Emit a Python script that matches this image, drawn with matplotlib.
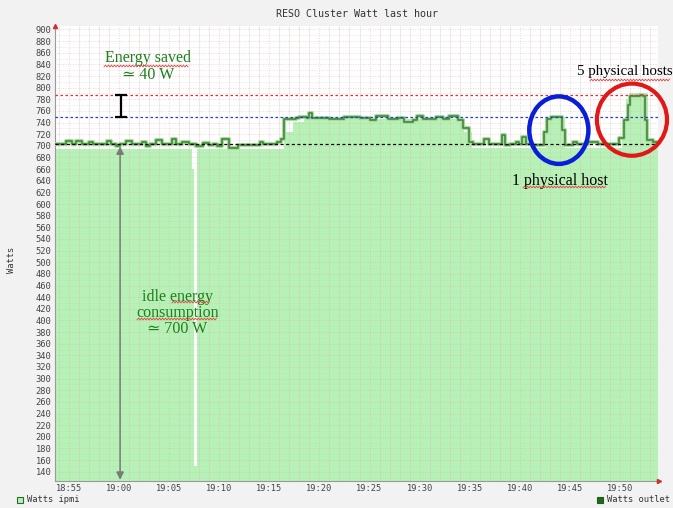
import numpy as np
import matplotlib
matplotlib.use('Agg')
import matplotlib.pyplot as plt
from matplotlib.patches import Ellipse, Rectangle
from matplotlib.lines import Line2D

# minutes after 19:00, step points (value holds until next point)
outlet_t = [-6.5, -5.3, -4.7, -4.3, -3.7, -3.0, -2.6, -1.2, -0.8, -0.3, 0.1, 0.7, 1.3,
            2.3, 2.7, 3.1, 3.7, 4.3, 5.3, 5.7, 6.3, 7.0, 7.7, 8.4, 9.0, 9.4, 9.8,
            10.3, 11.0, 11.9, 14.1, 14.4, 15.8, 16.2, 16.5, 17.7, 18.0, 18.8, 19.0,
            19.3, 21.0, 22.5, 24.0, 25.0, 25.6, 26.8, 27.8, 28.4, 29.3, 29.7, 30.3,
            31.6, 32.3, 32.9, 33.8, 34.3, 34.9, 35.3, 36.4, 36.9, 38.2, 38.5, 39.0,
            39.6, 39.9, 40.2, 40.6, 41.3, 42.4, 42.7, 43.1, 44.2, 44.5, 45.3, 45.7,
            46.8, 47.8, 49.9, 50.4, 50.8, 51.0, 52.0, 52.3, 52.5, 52.7, 53.3, 53.8]
outlet_w = [704, 709, 704, 709, 704, 707, 703, 708, 704, 699, 704, 708, 703,
            707, 699, 704, 710, 704, 711, 704, 706, 703, 700, 705, 701, 704, 700,
            712, 697, 701, 706, 703, 707, 712, 746, 748, 750, 748, 757,
            748, 747, 749, 748, 744, 752, 746, 748, 741, 745, 752, 746,
            750, 746, 752, 744, 730, 707, 704, 712, 704, 718, 701, 703,
            707, 703, 716, 703, 701, 724, 747, 750, 727, 701, 707, 703,
            706, 704, 713, 744, 770, 786, 788, 786, 744, 710, 707, 707]

ipmi_t = [-6.5, 7.25, 7.45, 7.75, 16.5, 17.4, 18.5, 34.0, 34.4, 35.2, 42.6, 42.9,
          44.5, 50.2, 50.6, 50.9, 52.8, 53.4, 53.8]
ipmi_w = [694, 660, 150, 694, 724, 741, 746, 740, 724, 696, 735, 748,
          696, 730, 780, 790, 710, 700, 700]

tick_min = [-5, 0, 5, 10, 15, 20, 25, 30, 35, 40, 45, 50]
tick_labels = ['18:55', '19:00', '19:05', '19:10', '19:15', '19:20',
               '19:25', '19:30', '19:35', '19:40', '19:45', '19:50']
y_ticks = list(range(140, 901, 20))

idle_level = 703
saved_low = 749
saved_high = 787

serif = ['Liberation Serif', 'DejaVu Serif']
mono = 'DejaVu Sans Mono'
green_txt = '#1d7f1d'

fig = plt.figure(figsize=(6.73, 5.08), dpi=100, facecolor='#f2f2f2')
ax = fig.add_axes([55 / 673, 27 / 508, 603 / 673, 455 / 508])
ax.set_facecolor('white')
ax.set_xlim(-6.4, 53.8)
ax.set_ylim(124, 906)

ax.fill_between(ipmi_t, ipmi_w, 0, step='post', color='#b6f2b6', lw=0, zorder=1)
ax.plot(outlet_t, outlet_w, drawstyle='steps-post', color='#a6dc9e', lw=3.0, zorder=3)
ax.plot(outlet_t, outlet_w, drawstyle='steps-post', color='#47853d', lw=1.2, zorder=3.1)

# grid
ax.set_xticks(tick_min)
ax.set_xticklabels(tick_labels)
ax.set_xticks(np.arange(-6, 54, 1), minor=True)
ax.set_yticks(y_ticks)
ax.set_yticks(np.arange(130, 906, 10), minor=True)
ax.set_axisbelow(False)
ax.grid(which='minor', axis='x', color='#d8b8b8', lw=0.5, alpha=0.45)
ax.grid(which='minor', axis='y', color='#c8c8c8', lw=0.4, alpha=0.3)
ax.grid(which='major', color='#e8a0a0', lw=0.6, ls=(0, (1, 2)), alpha=0.6)
ax.tick_params(which='both', length=0, labelsize=6.3, colors='#444444', pad=2.5)
for lab in ax.get_xticklabels() + ax.get_yticklabels():
    lab.set_family(mono)
for s in ['top', 'right']:
    ax.spines[s].set_visible(False)
ax.spines['left'].set_color('#999999')
ax.spines['bottom'].set_color('#999999')
ax.plot([-6.4], [906], marker='^', color='#cc3333', ms=3, clip_on=False, zorder=5)
ax.plot([53.9], [124], marker='>', color='#cc3333', ms=3, clip_on=False, zorder=5)

# reference levels
ax.axhline(saved_high, color='#e03030', lw=0.9, ls=(0, (2, 2)), zorder=4)
ax.axhline(saved_low, color='#2040d0', lw=0.9, ls=(0, (2, 2)), zorder=4)
ax.axhline(idle_level, color='black', lw=0.9, ls=(0, (2.5, 2)), zorder=4)

# energy saved bar
ax.errorbar([0.17], [(saved_high + saved_low) / 2], yerr=[(saved_high - saved_low) / 2],
            color='black', lw=1.6, capsize=4, capthick=1.6, zorder=5)
# idle arrow
ax.annotate('', xy=(0.1, 126), xytext=(0.1, 699),
            arrowprops=dict(arrowstyle='<|-|>', color='#7a7a7a', lw=1.1,
                            mutation_scale=11, shrinkA=0, shrinkB=0), zorder=5)

ax.text(2.85, 837, 'Energy saved\n\u2243 40 W', ha='center', va='center', color=green_txt,
        fontsize=11.5, family=serif, linespacing=1.1, zorder=6)
ax.text(5.8, 412, 'idle energy\nconsumption\n\u2243 700 W', ha='center', va='center',
        color=green_txt, fontsize=11.5, family=serif, linespacing=1.0, zorder=6)
ax.text(45.7, 827, '5 physical hosts', ha='left', va='center', color='black',
        fontsize=10.8, family=serif, clip_on=False, zorder=6)
ax.text(39.2, 639, '1 physical host', ha='left', va='center', color='black',
        fontsize=11.5, family=serif, zorder=6)

ax.add_patch(Ellipse((43.9, 727), 5.9, 116, fill=False, ec='#0a1ed8', lw=3.2, zorder=6,
                     clip_on=False))
ax.add_patch(Ellipse((51.2, 745), 7.0, 124, fill=False, ec='#e01818', lw=3.0, zorder=6,
                     clip_on=False))


# spell-check squiggles, figure pixel coords
def squiggle(x0, x1, y):
    xs = np.arange(x0, x1, 1.5)
    ys = y + np.where(np.arange(len(xs)) % 2 == 0, 0.9, -0.9)
    fig.add_artist(Line2D(xs / 673, 1 - ys / 508, color='#e04040', lw=0.6,
                          transform=fig.transFigure))


squiggle(104, 189, 66)
squiggle(590, 670, 80)
squiggle(523, 606, 187)
squiggle(172, 211, 302)
squiggle(137, 218, 319)

fig.text(357 / 673, 1 - 14 / 508, 'RESO Cluster Watt last hour', ha='center', va='center',
         family=mono, fontsize=7.2, color='#333333')
fig.text(12 / 673, 1 - 260 / 508, 'Watts', rotation=90, ha='center', va='center',
         family=mono, fontsize=6.3, color='#333333')

# legend
fig.add_artist(Rectangle((17 / 673, 1 - 503 / 508), 6 / 673, 6 / 508, fc='#b6f2b6',
                         ec='#2a6a2a', lw=0.8, transform=fig.transFigure))
fig.text(27 / 673, 1 - 500 / 508, 'Watts ipmi', ha='left', va='center', family=mono,
         fontsize=6.3, color='#333333')
fig.add_artist(Rectangle((597 / 673, 1 - 503 / 508), 6 / 673, 6 / 508, fc='#1f6a1f',
                         ec='#1f5a1f', lw=0.8, transform=fig.transFigure))
fig.text(607 / 673, 1 - 500 / 508, 'Watts outlet', ha='left', va='center', family=mono,
         fontsize=6.3, color='#333333')

fig.savefig('out.png', dpi=100, facecolor=fig.get_facecolor())
